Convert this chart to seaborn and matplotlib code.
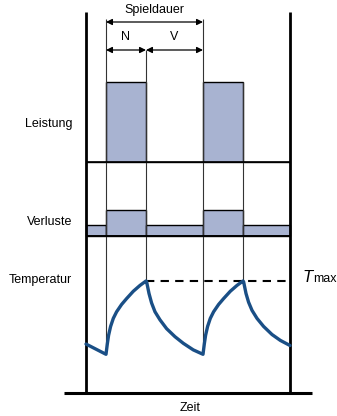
"""
Spieldauer-Diagramm: Leistung, Verluste und Temperatur im Aussetzbetrieb.
"""

import numpy as np
import pandas as pd
import matplotlib.pyplot as plt
import seaborn as sns

# Zeitpunkte der Schaltflanken (Zeit-Einheiten, 0 = linke Achse)
zeit_grenzen = [0, 20, 60, 117, 157, 204]
# Pegel je Abschnitt (relativ)
leistung = [0, 1, 0, 1, 0]
verluste = [0.42, 1, 0.42, 1, 0.42]

# Temperaturverlauf, relativ (0 = Minimum, 1 = T max)
zeit_temp = [0, 10,
             20, 21.3, 22.6, 24.6, 27.3, 30.6, 35.6, 40.6, 47.3, 54, 60,
             60.6, 63, 65.6, 69, 74, 80.6, 89, 97.3, 107.3, 117,
             118.3, 119.6, 121.6, 124.3, 127.6, 132.6, 137.6, 144.3, 151, 157,
             157.6, 160, 162.6, 166, 171, 177.6, 186, 194.3, 204]
temperatur = [0.14, 0.07,
              0, 0.14, 0.26, 0.38, 0.49, 0.58, 0.68, 0.76, 0.86, 0.94, 1.0,
              0.99, 0.83, 0.70, 0.58, 0.47, 0.35, 0.24, 0.15, 0.06, 0,
              0.14, 0.26, 0.38, 0.49, 0.58, 0.68, 0.76, 0.86, 0.94, 1.0,
              0.99, 0.83, 0.71, 0.60, 0.49, 0.38, 0.27, 0.19, 0.12]

zeilen = ["Leistung", "Verluste", "Temperatur"]

FUELL = "#A8B3D1"
KURVE = "#1A4F86"


def main():
    sns.set_theme(style="white")
    plt.rcParams['font.family'] = ['Liberation Sans', 'DejaVu Sans']
    plt.rcParams['text.color'] = 'black'

    fig = plt.figure(figsize=(3.37, 4.16), dpi=100)
    ax = fig.add_axes([0, 0, 1, 1])

    t0, t_end = zeit_grenzen[0], zeit_grenzen[-1]
    links = zeit_grenzen[:-1]
    breiten = np.diff(zeit_grenzen)

    # Spurlagen (Pixel von oben)
    leist_basis, leist_hoehe = 162, 80
    verl_basis, verl_hoehe = 236, 26
    temp_min, temp_hub = 354.3, 73.3

    # Leistung
    ax.bar(links, -leist_hoehe * np.array(leistung), bottom=leist_basis,
           width=breiten, align='edge', color=FUELL, edgecolor='black', linewidth=1.0)
    ax.hlines(leist_basis, t0, t_end, color='black', linewidth=1.2)

    # Verluste
    ax.bar(links, -verl_hoehe * np.array(verluste), bottom=verl_basis,
           width=breiten, align='edge', color=FUELL, edgecolor='black', linewidth=1.0)
    ax.hlines(verl_basis, t0, t_end, color='black', linewidth=1.4)

    # Temperatur
    df = pd.DataFrame({'zeit': zeit_temp,
                       'y': temp_min - temp_hub * np.array(temperatur)})
    y_tmax = temp_min - temp_hub * max(temperatur)

    # senkrechte Hilfslinien an den Schaltflanken
    oben = [19, 50, 19, 82]
    for t, top in zip(zeit_grenzen[1:-1], oben):
        i = zeit_temp.index(t)
        ax.vlines(t, top, df['y'][i], color='#333333', linewidth=0.8, zorder=1)

    ax.hlines(y_tmax, zeit_grenzen[2], t_end, color='black', linewidth=1.5,
              linestyles=(0, (4, 3)))

    sns.lineplot(data=df, x='zeit', y='y', sort=False, estimator=None, ax=ax,
                 color=KURVE, linewidth=2.4, zorder=5)

    # Achsen
    ax.vlines([t0, t_end], 12, 393, color='black', linewidth=2.0)
    ax.hlines(393, -22, 226, color='black', linewidth=2.2)

    # Pfeile
    pfeil = dict(arrowstyle='<|-|>', color='black', lw=0.9,
                 mutation_scale=9, shrinkA=0, shrinkB=0)
    ax.annotate('', xy=(zeit_grenzen[1], 22), xytext=(zeit_grenzen[3], 22), arrowprops=pfeil)
    ax.annotate('', xy=(zeit_grenzen[1], 50), xytext=(zeit_grenzen[2], 50), arrowprops=pfeil)
    ax.annotate('', xy=(zeit_grenzen[2], 50), xytext=(zeit_grenzen[3], 50), arrowprops=pfeil)

    ax.text((zeit_grenzen[1] + zeit_grenzen[3]) / 2, 10, 'Spieldauer',
            ha='center', va='center', fontsize=9)
    ax.text((zeit_grenzen[1] + zeit_grenzen[2]) / 2, 37, 'N', ha='center', va='center', fontsize=9)
    ax.text((zeit_grenzen[2] + zeit_grenzen[3]) / 2, 37, 'V', ha='center', va='center', fontsize=9)

    # Beschriftungen links
    for name, y in zip(zeilen, [124, 222, 280]):
        ax.text(-14, y, name, ha='right', va='center', fontsize=9)

    ax.text(217, 282, 'T', ha='left', va='baseline', fontsize=12, style='italic')
    ax.text(227, 282, 'max', ha='left', va='baseline', fontsize=9)
    ax.text(104, 408, 'Zeit', ha='center', va='center', fontsize=9)

    ax.set_xlim(-86, 251)
    ax.set_ylim(416, 0)
    ax.set_axis_off()

    fig.savefig('out.png', dpi=100)
    plt.close(fig)


if __name__ == "__main__":
    main()
